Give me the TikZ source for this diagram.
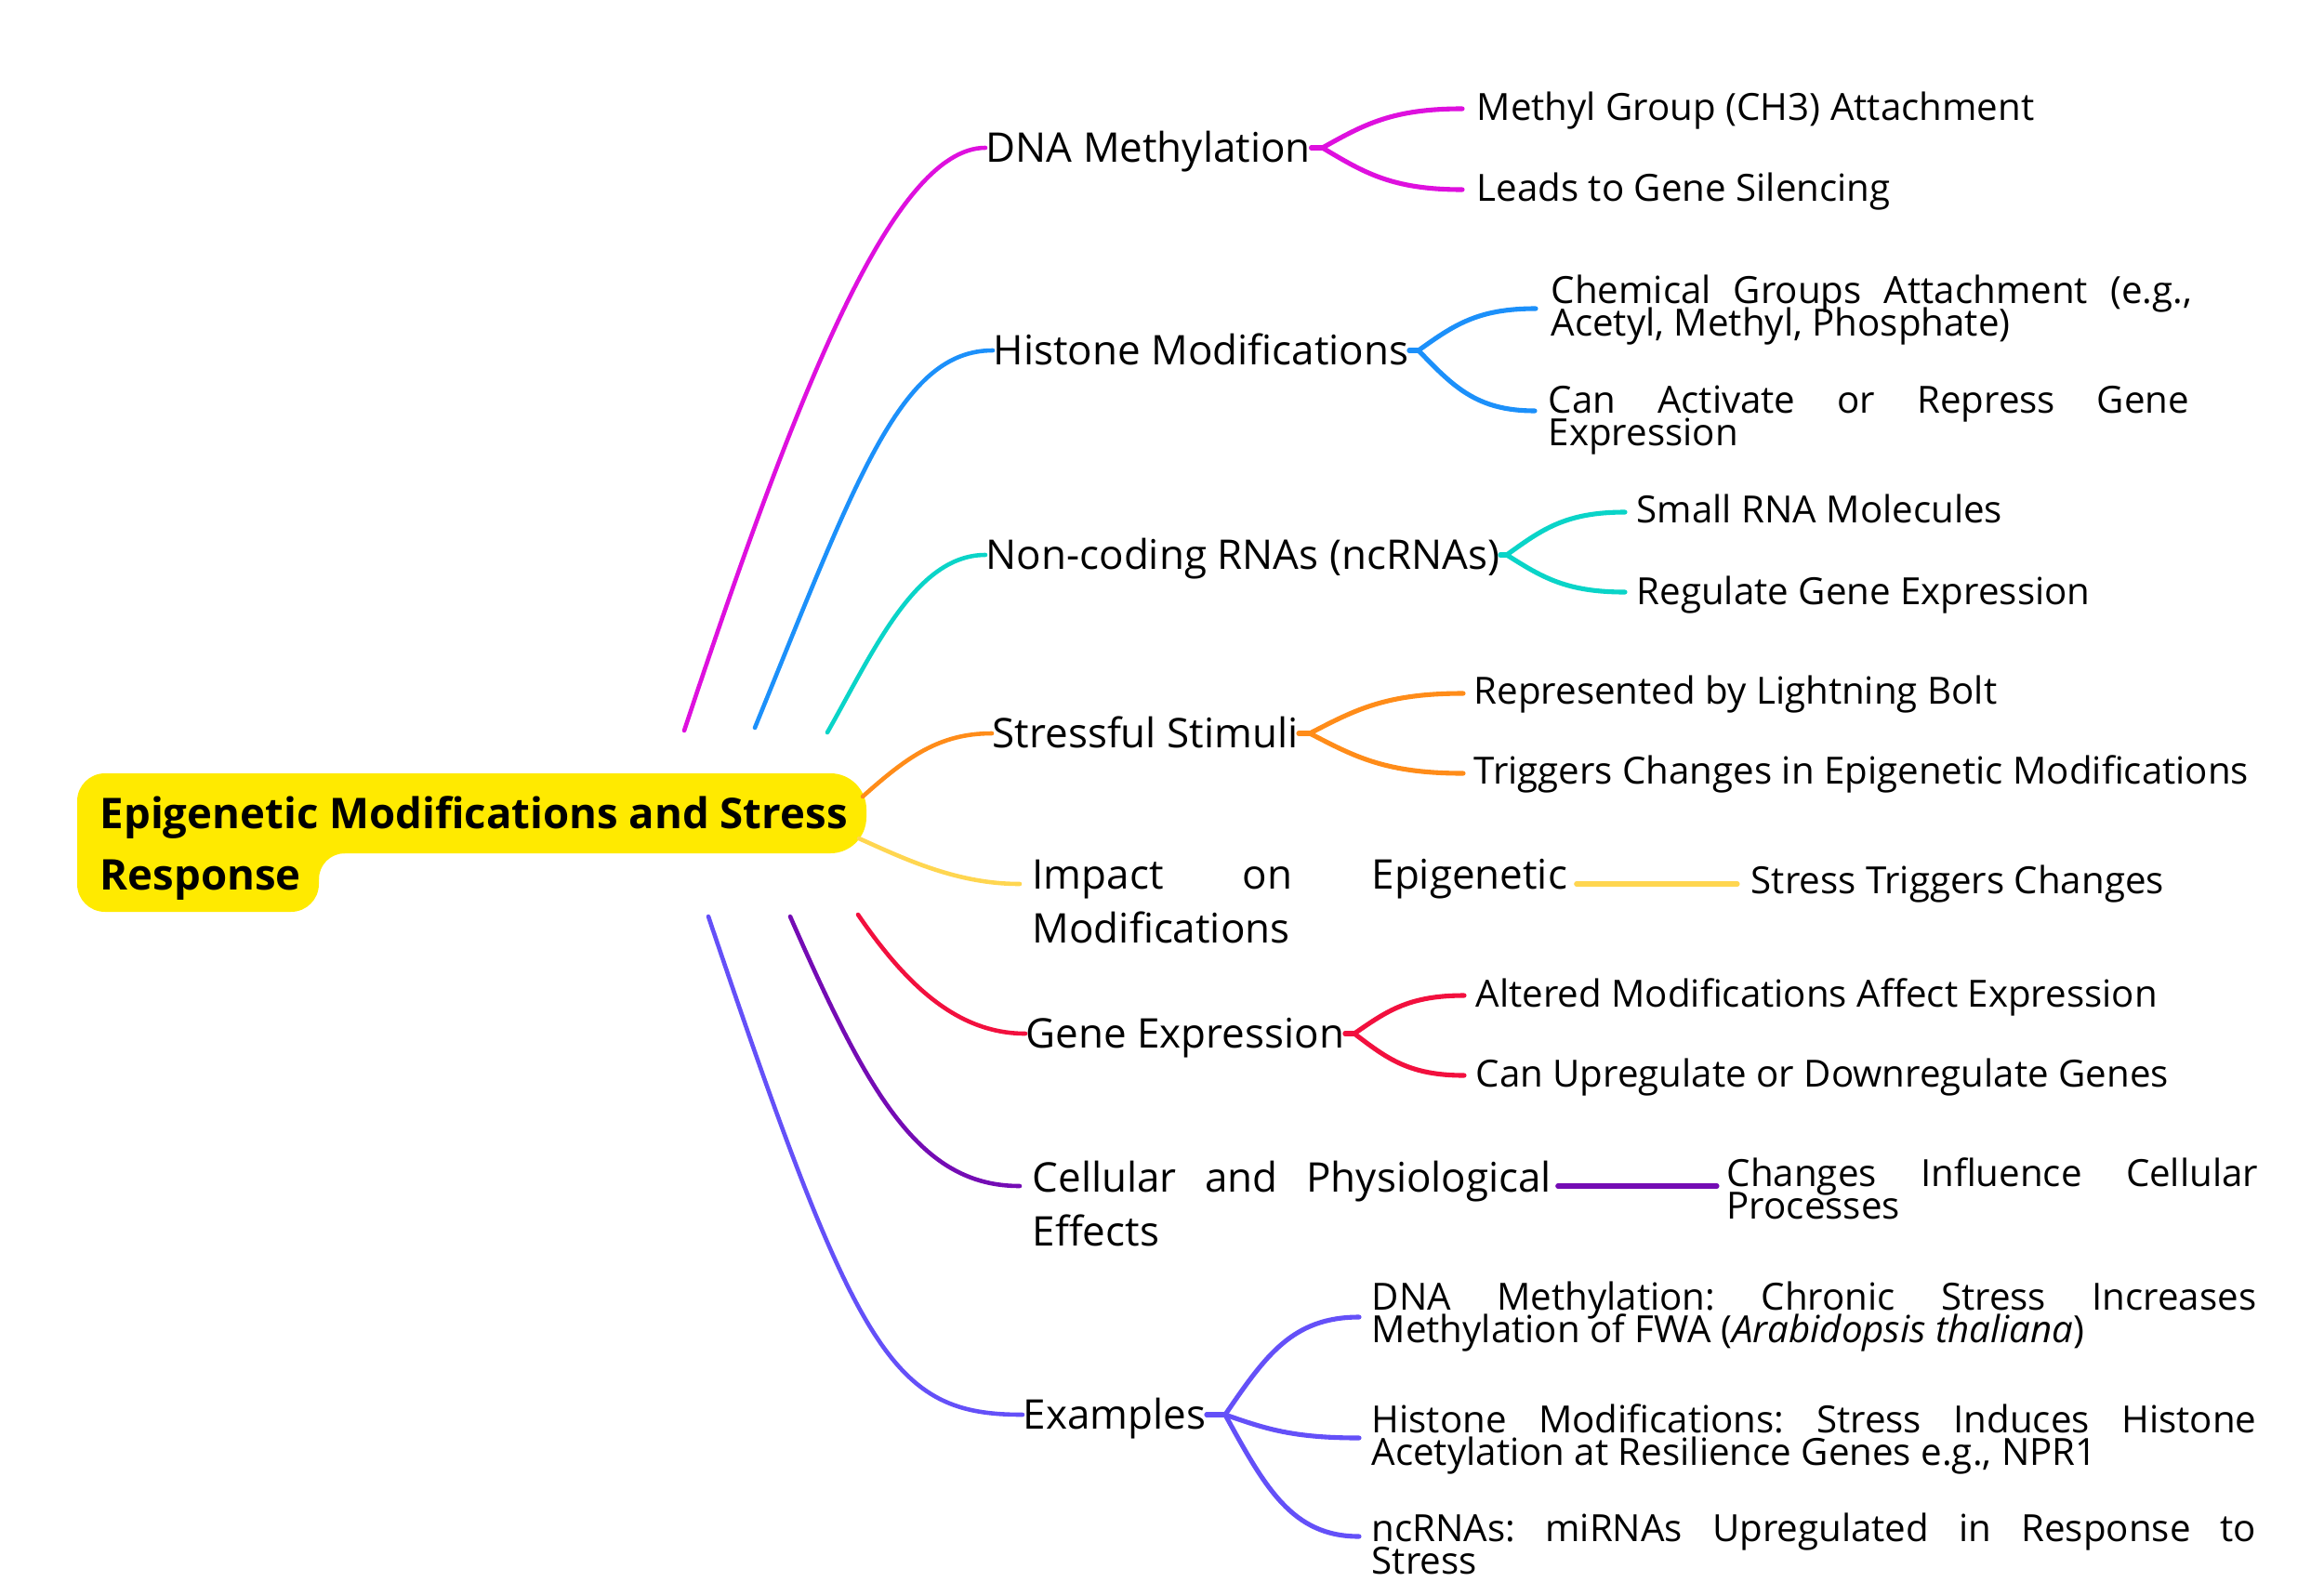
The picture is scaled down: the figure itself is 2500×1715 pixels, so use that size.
\documentclass[tikz,border=0pt]{standalone}
\usepackage{fontspec}
\setmainfont{Open Sans}
\usetikzlibrary{calc}
\definecolor{cMag}{RGB}{222,16,222}
\definecolor{cBlue}{RGB}{28,144,250}
\definecolor{cCyan}{RGB}{10,212,200}
\definecolor{cOrange}{RGB}{255,140,25}
\definecolor{cYellow}{RGB}{255,214,80}
\definecolor{cRed}{RGB}{242,16,62}
\definecolor{cPurple}{RGB}{116,12,180}
\definecolor{cIndigo}{RGB}{100,80,248}
\definecolor{cRoot}{RGB}{255,234,0}
\newcommand\mmfork[3]{\draw[forkline,#1] let \p1=(#2), \p2=(#3) in (\p1) .. controls ({\x1+0.3*(\x2-\x1)},{\y1+0.6*(\y2-\y1)}) and ({0.5*(\x1+\x2)},\y2) .. (\p2);}
\newcommand\twolines[3]{\vtop{\lineskiplimit=-100pt\hbox to #1{#2}\hbox{#3}}}
\begin{document}
\begin{tikzpicture}[x=0.01cm,y=-0.01cm,
  conn/.style={line width=1.3pt,line cap=round},
  forkline/.style={line width=1.45pt,line cap=round},
  rootn/.style={inner sep=0pt,anchor=base west,font=\fontsize{12.95pt}{18.8pt}\selectfont\bfseries},
  mainn/.style={inner sep=0pt,anchor=west,font=\fontsize{12.5pt}{16.6pt}\selectfont,text height=0.31cm,text depth=0pt},
  mainm/.style={inner sep=0pt,anchor=base west,font=\fontsize{12.5pt}{16.6pt}\selectfont},
  leafn/.style={inner sep=0pt,anchor=west,font=\fontsize{11.45pt}{9.96pt}\selectfont,text height=0.29cm,text depth=0pt},
  leafm/.style={inner sep=0pt,anchor=base west,font=\fontsize{11.45pt}{9.96pt}\selectfont}]
\useasboundingbox (0,0) rectangle (2500,1715);
\fill[white] (0,0) rectangle (2500,1715);
% root shape: top bar, lower-left tab, concave fillet
\fill[cRoot,rounded corners=11pt] (83,832) rectangle (932,918);
\fill[cRoot,rounded corners=8.5pt] (83,832) rectangle (343,981);
\fill[cRoot] (341,946) -- (341,916) -- (371,916) -- (371,918) .. controls (355.5,918) and (343,930.5) .. (343,946) -- cycle;
\node[rootn] (root) at (107,891) {\vtop{\lineskiplimit=-100pt\hbox{Epigenetic Modifications and Stress}\hbox{Response}}};
% main nodes
\node[mainn] (dna) at (1060,159) {DNA Methylation};
\node[mainn] (hist) at (1068,377) {Histone Modifications};
\node[mainn] (ncrna) at (1060,597) {Non-coding RNAs (ncRNAs)};
\node[mainn] (stim) at (1067,789) {Stressful Stimuli};
\node[mainm] (impact) at (1110,956) {\twolines{5.75cm}{Impact\hfill on\hfill Epigenetic}{Modifications}};
\node[mainn] (gene) at (1103,1112) {Gene Expression};
\node[mainm] (cell) at (1110,1282) {\twolines{5.58cm}{Cellular\hfill and\hfill Physiological}{Effects}};
\node[mainn] (ex) at (1100,1522) {Examples};
% main connectors
\coordinate (r1) at (736,786);
\coordinate (r2) at (812,783);
\coordinate (r3) at (890,788);
\coordinate (r4) at (928,857);
\coordinate (r5) at (924,902);
\coordinate (r6) at (923,984);
\coordinate (r7) at (850,986);
\coordinate (r8) at (762,986);
\coordinate (impin) at ($(impact.base west)+(-13,-5)$);
\coordinate (cellin) at ($(cell.base west)+(-13,-6)$);
\draw[conn,cMag] (r1) .. controls (856,425) and (960,159) .. (dna.west);
\draw[conn,cBlue] (r2) .. controls (922,513) and (969,377) .. (hist.west);
\draw[conn,cCyan] (r3) .. controls (940,700) and (985,597) .. (ncrna.west);
\draw[conn,cOrange] (r4) .. controls (975,815) and (1010,789) .. (stim.west);
\draw[conn,cYellow] (r5) .. controls (975,925) and (1030,951) .. (impin);
\draw[conn,cRed] (r6) .. controls (975,1060) and (1030,1112) .. (gene.west);
\draw[conn,cPurple] (r7) .. controls (935,1180) and (990,1276) .. (cellin);
\draw[conn,cIndigo] (r8) .. controls (922,1460) and (960,1522) .. (ex.west);
% DNA methylation leaves
\node[leafn] (m1) at (1588,115) {Methyl Group (CH3) Attachment};
\node[leafn] (m2) at (1588,202) {Leads to Gene Silencing};
\coordinate (fdna) at ($(dna.east)+(12,0)$);
\draw[forkline,cMag] (dna.east) -- (fdna);
\mmfork{cMag}{fdna}{$(m1.west)+(-15,2)$}
\mmfork{cMag}{fdna}{$(m2.west)+(-15,2)$}
% Histone leaves
\node[leafm] (h1) at (1668,326) {\twolines{6.89cm}{Chemical\hfill Groups\hfill Attachment\hfill (e.g.,}{Acetyl, Methyl, Phosphate)}};
\node[leafm] (h2) at (1665,444) {\twolines{6.89cm}{Can\hfill Activate\hfill or\hfill Repress\hfill Gene}{Expression}};
\coordinate (fhist) at ($(hist.east)+(10,0)$);
\draw[forkline,cBlue] (hist.east) -- (fhist);
\mmfork{cBlue}{fhist}{$(h1.base west)+(-16,6)$}
\mmfork{cBlue}{fhist}{$(h2.base west)+(-14,-2)$}
% ncRNA leaves
\node[leafn] (n1) at (1760,548) {Small RNA Molecules};
\node[leafn] (n2) at (1760,636) {Regulate Gene Expression};
\coordinate (fnc) at ($(ncrna.east)+(7,0)$);
\draw[forkline,cCyan] (ncrna.east) -- (fnc);
\mmfork{cCyan}{fnc}{$(n1.west)+(-12,3)$}
\mmfork{cCyan}{fnc}{$(n2.west)+(-12,1)$}
% Stress leaves
\node[leafn] (t1) at (1585,743) {Represented by Lightning Bolt};
\node[leafn] (t2) at (1585,829) {Triggers Changes in Epigenetic Modifications};
\coordinate (fst) at ($(stim.east)+(12,0)$);
\draw[forkline,cOrange] (stim.east) -- (fst);
\mmfork{cOrange}{fst}{$(t1.west)+(-11,3)$}
\mmfork{cOrange}{fst}{$(t2.west)+(-11,3)$}
% Impact leaf
\node[leafn] (stt) at (1883,947) {Stress Triggers Changes};
\draw[forkline,cYellow] ($(impact.base east)+(9,-5)$) -- ($(stt.west)+(-14,4)$);
% Gene expression leaves
\node[leafn] (g1) at (1587,1069) {Altered Modifications Affect Expression};
\node[leafn] (g2) at (1587,1155) {Can Upregulate or Downregulate Genes};
\coordinate (fge) at ($(gene.east)+(10,0)$);
\draw[forkline,cRed] (gene.east) -- (fge);
\mmfork{cRed}{fge}{$(g1.west)+(-12,2)$}
\mmfork{cRed}{fge}{$(g2.west)+(-12,2)$}
% Cellular leaf
\node[leafm] (chg) at (1857,1276) {\twolines{5.71cm}{Changes\hfill Influence\hfill Cellular}{Processes}};
\draw[forkline,cPurple] ($(cell.base east)+(6,-6)$) -- ($(chg.base west)+(-10,0)$);
% Examples leaves
\node[leafm] (e1) at (1475,1409) {\twolines{9.51cm}{DNA\hfill Methylation:\hfill Chronic\hfill Stress\hfill Increases}{Methylation of FWA (\textit{Arabidopsis thaliana})}};
\node[leafm] (e2) at (1475,1541) {\twolines{9.51cm}{Histone\hfill Modifications:\hfill Stress\hfill Induces\hfill Histone}{Acetylation at Resilience Genes e.g., NPR1}};
\node[leafm] (e3) at (1475,1658) {\twolines{9.51cm}{ncRNAs:\hfill miRNAs\hfill Upregulated\hfill in\hfill Response\hfill to}{Stress}};
\coordinate (fex) at ($(ex.east)+(20,0)$);
\draw[forkline,cIndigo] (ex.east) -- (fex);
\mmfork{cIndigo}{fex}{$(e1.base west)+(-13,8)$}
\mmfork{cIndigo}{fex}{$(e2.base west)+(-13,6)$}
\mmfork{cIndigo}{fex}{$(e3.base west)+(-13,-5)$}
\end{tikzpicture}
\end{document}
